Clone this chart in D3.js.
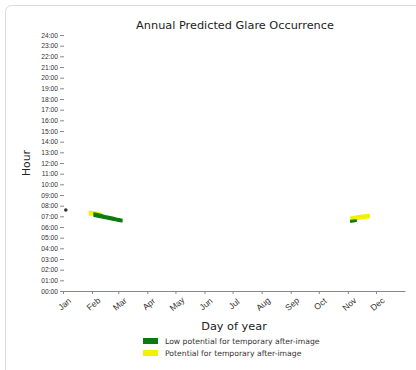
<!DOCTYPE html>
<html><head><meta charset="utf-8">
<script src="https://cdn.jsdelivr.net/npm/d3@7"></script>
<style>body{margin:0;background:#fff;}svg{display:block;font-family:"DejaVu Sans",sans-serif;}</style>
</head><body><svg id="c" width="416" height="370"></svg>
<script>
const monthLabels=["Jan","Feb","Mar","Apr","May","Jun","Jul","Aug","Sep","Oct","Nov","Dec"];
const monthDays=[1,32,60,91,121,152,182,213,244,274,305,335];
const hourTicks=d3.range(0,25);
// Low potential (green): [day, lowHour, highHour]
const greenFeb=[[34,7.00,7.33],[38,6.93,7.25],[42,6.86,7.17],[46,6.79,7.08],[50,6.72,7.00],[54,6.64,6.92],[58,6.56,6.84],[62,6.50,6.77],[64,6.47,6.74]];
const greenNov=[[308,6.45,6.62],[311,6.48,6.64],[314,6.52,6.66]];
// Potential (yellow)
const yellowFeb=[[29,7.12,7.48],[32,7.10,7.45],[36,7.08,7.40],[40,7.07,7.33],[42,7.06,7.30]];
const yellowNov=[[308,6.56,6.94],[312,6.62,7.00],[316,6.70,7.06],[320,6.77,7.11],[324,6.83,7.15],[328,6.86,7.19]];
const markerPts=[[4,7.6]];
const legendItems=["Low potential for temporary after-image","Potential for temporary after-image"];
const colors=["#0d7a0d","#f2f200"];

const svg=d3.select("#c");
svg.append("rect").attr("x",5.5).attr("y",5.5).attr("width",430).attr("height",380).attr("rx",6)
  .attr("fill","#fff").attr("stroke","#dcdcdc");

const x=d3.scaleLinear().domain([1,366]).range([63,405]);
const y=d3.scaleLinear().domain([0,24]).range([291,35]);

// x axis
const xa=svg.append("g").attr("transform","translate(0,291)")
  .call(d3.axisBottom(x).tickValues(monthDays).tickFormat((d,i)=>monthLabels[i]).tickSize(3).tickSizeOuter(0));
xa.select(".domain").attr("stroke","#888");
xa.selectAll(".tick line").attr("stroke","#888");
xa.selectAll("text").attr("font-size",8.6).attr("fill","#333")
  .attr("text-anchor","middle").attr("dy","0.35em").attr("y",0)
  .attr("transform","translate(1,13) rotate(-40)");

// y axis (no spine)
const ya=svg.append("g").attr("transform","translate(64,0)")
  .call(d3.axisLeft(y).tickValues(hourTicks).tickFormat(d=>d3.format("02d")(d)+":00").tickSize(4).tickPadding(2));
ya.select(".domain").remove();
ya.selectAll(".tick line").attr("stroke","#888");
ya.selectAll("text").attr("font-size",6.7).attr("fill","#333");

const area=d3.area().x(d=>x(d[0])).y0(d=>y(d[1])).y1(d=>y(d[2]));
[[yellowFeb,1],[greenFeb,0],[yellowNov,1],[greenNov,0]].forEach(([data,ci])=>{
  svg.append("path").datum(data).attr("d",area).attr("fill",colors[ci]).attr("stroke",colors[ci]).attr("stroke-width",1.2).attr("stroke-linejoin","round");
});
svg.selectAll(".mk").data(markerPts).join("circle").attr("cx",d=>x(d[0])).attr("cy",d=>y(d[1])).attr("r",1.8).attr("fill","#333");

svg.append("text").attr("x",235).attr("y",29).attr("text-anchor","middle").attr("font-size",11.3).attr("fill","#222").text("Annual Predicted Glare Occurrence");
svg.append("text").attr("transform","translate(30,163) rotate(-90)").attr("text-anchor","middle").attr("font-size",10.8).attr("fill","#222").text("Hour");
svg.append("text").attr("x",234).attr("y",330).attr("text-anchor","middle").attr("font-size",11.3).attr("fill","#222").text("Day of year");

const lg=svg.append("g");
legendItems.forEach((t,i)=>{
  lg.append("rect").attr("x",143).attr("y",338+i*12).attr("width",15).attr("height",6).attr("fill",colors[i]);
  lg.append("text").attr("x",165).attr("y",344+i*12).attr("font-size",7.7).attr("fill","#333").text(t);
});
</script></body></html>
